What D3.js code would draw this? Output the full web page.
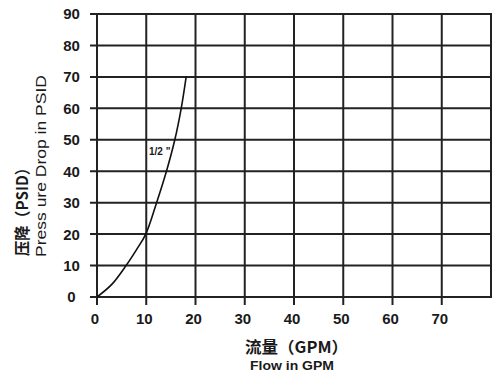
<!DOCTYPE html>
<html>
<head>
<meta charset="utf-8">
<script src="https://d3js.org/d3.v7.min.js"></script>
<style>
body { margin: 0; background: #fff; }
text { font-family: "Liberation Sans", Arial, sans-serif; fill: #1a1a1a; }
</style>
</head>
<body>
<svg width="500" height="377"></svg>
<script>
// data
var flow = [0, 3, 5.9, 8, 9.9, 12.1, 14.1, 15.8, 17.1, 18.1];
var psid = [0, 4, 10, 15, 20, 30, 40, 50, 60, 70];
var xTicks = [0, 10, 20, 30, 40, 50, 60, 70];
var yTicks = [0, 10, 20, 30, 40, 50, 60, 70, 80, 90];
var curveLabel = "1/2 \"";

var svg = d3.select("svg");
var x = d3.scaleLinear().domain([0, 80]).range([97, 491]);
var y = d3.scaleLinear().domain([0, 90]).range([297, 14]);
var gridColor = "#222";

// horizontal grid + y ticks
svg.append("g").selectAll("line").data(yTicks).enter().append("line")
  .attr("x1", 90).attr("x2", x(80))
  .attr("y1", function(d) { return y(d); }).attr("y2", function(d) { return y(d); })
  .style("stroke", gridColor).style("stroke-width", 2);

// vertical grid + x ticks
svg.append("g").selectAll("line").data(xTicks).enter().append("line")
  .attr("x1", function(d) { return x(d); }).attr("x2", function(d) { return x(d); })
  .attr("y1", y(90) - 1).attr("y2", 305)
  .style("stroke", gridColor).style("stroke-width", 2);

// right border
svg.append("line")
  .attr("x1", x(80)).attr("x2", x(80)).attr("y1", y(90) - 1).attr("y2", y(0) + 1)
  .style("stroke", gridColor).style("stroke-width", 2);

// tick labels
svg.append("g").selectAll("text").data(yTicks).enter().append("text")
  .attr("x", 71.5).attr("y", function(d) { return y(d); }).attr("dy", "0.36em")
  .attr("text-anchor", "middle").style("font-size", "15px").style("font-weight", "bold")
  .text(function(d) { return d; });

svg.append("g").selectAll("text").data(xTicks).enter().append("text")
  .attr("x", function(d) { return x(d) - 2; }).attr("y", 324)
  .attr("text-anchor", "middle").style("font-size", "15px").style("font-weight", "bold")
  .text(function(d) { return d; });

// curve
var pts = flow.map(function(f, i) { return [f, psid[i]]; });
var line = d3.line()
  .x(function(d) { return x(d[0]); })
  .y(function(d) { return y(d[1]); })
  .curve(d3.curveCatmullRom);
svg.append("path").datum(pts).attr("d", line)
  .style("fill", "none").style("stroke", "#111").style("stroke-width", 1.6);

svg.append("text").attr("x", 149).attr("y", 155)
  .style("font-size", "10px").style("font-weight", "bold").text(curveLabel);

// axis titles
svg.append("text").attr("transform", "translate(28,256) rotate(-90)")
  .attr("textLength", 96).attr("lengthAdjust", "spacingAndGlyphs")
  .style("font-size", "16px").style("font-weight", "bold")
  .style("font-family", "'Noto Sans CJK SC', sans-serif")
  .text("压降（PSID）");
svg.append("text").attr("transform", "translate(46,257) rotate(-90)")
  .attr("textLength", 182).attr("lengthAdjust", "spacingAndGlyphs")
  .style("font-size", "15.5px")
  .text("Press ure Drop in PSID");

svg.append("text").attr("x", 245).attr("y", 353)
  .attr("textLength", 103).attr("lengthAdjust", "spacingAndGlyphs")
  .style("font-size", "16px").style("font-weight", "bold")
  .style("font-family", "'Noto Sans CJK SC', sans-serif")
  .text("流量（GPM）");
svg.append("text").attr("x", 250).attr("y", 370)
  .attr("textLength", 84).attr("lengthAdjust", "spacingAndGlyphs")
  .style("font-size", "13.5px").style("font-weight", "bold")
  .text("Flow in GPM");
</script>
</body>
</html>
